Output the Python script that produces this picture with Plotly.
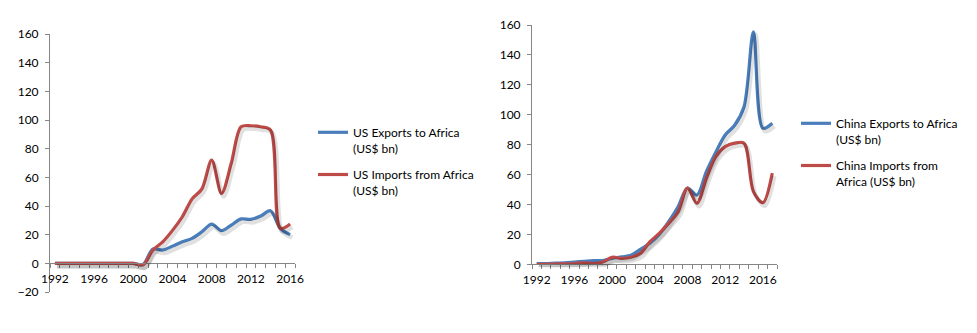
import plotly.graph_objects as go

# ---------------- data ----------------
us_years = list(range(1992, 2017))
us_exports = [0, 0, 0, 0, 0, 0, 0, 0, 0, -0.8, 10, 9.3, 12, 15, 17.4, 22, 27.4,
              22.8, 26.7, 31, 30.7, 33, 36.7, 24.4, 20]
us_imports = [0, 0, 0, 0, 0, 0, 0, 0, 0, -1, 9.3, 15, 23, 32.5, 45, 52, 72,
              48.8, 70, 95.3, 96, 95.3, 93, 24.4, 27.4]

cn_years = list(range(1992, 2018))
cn_exports = [0.5, 0.5, 0.8, 1, 1.5, 2, 2.5, 2.5, 4, 5, 6, 10, 14, 20, 28.5,
              38.5, 51, 46.3, 62, 75, 86.5, 93, 105.4, 155.5, 91, 94.3]
cn_imports = [0, 0, 0.2, 0.3, 0.5, 1, 0.5, 1.5, 4.7, 4, 4.7, 7.3, 15, 20.7,
              27.4, 35, 51, 40.8, 57.5, 72, 78.7, 81, 81, 48.6, 41.2, 61]

year_ticks = [1992, 1996, 2000, 2004, 2008, 2012, 2016]
left_yticks = [-20, 0, 20, 40, 60, 80, 100, 120, 140, 160]
right_yticks = [0, 20, 40, 60, 80, 100, 120, 140, 160]

names_us = ["US Exports to Africa<br>(US$ bn)", "US Imports from Africa<br>(US$ bn)"]
names_cn = ["China Exports to Africa<br>(US$ bn)", "China Imports from<br>Africa (US$ bn)"]

BLUE = "#4A7EBB"
RED = "#BE4B48"
AXIS = "#868686"
TXT = "#000000"
FONT = "Lato"

W, H = 977, 333

def px_x(a, b):
    return [a / W, b / W]

def px_y(top, bottom):
    return [1 - bottom / H, 1 - top / H]

# plot-area geometry (pixels)
L_dom_x = px_x(50, 295)
L_dom_y = px_y(34, 292)
R_dom_x = px_x(532, 777)
R_dom_y = px_y(25, 264.3)

SHX, SHY = 2 / W, 3 / H  # shadow offset

fig = go.Figure()

def add_series(xs, ys, color, name, xa, ya, xs_a, ys_a, legend):
    # soft shadow (drawn on offset, hidden axes)
    fig.add_trace(go.Scatter(x=xs, y=ys, mode="lines", xaxis=xs_a, yaxis=ys_a,
                             line=dict(color="rgba(0,0,0,0.12)", width=4.5,
                                       shape="spline", smoothing=0.9),
                             showlegend=False, hoverinfo="skip"))
    fig.add_trace(go.Scatter(x=xs, y=ys, mode="lines", name=name, xaxis=xa, yaxis=ya,
                             line=dict(color=color, width=3.2, shape="spline", smoothing=0.9),
                             legend=legend, legendgroup=name))

add_series(us_years, us_exports, BLUE, names_us[0], "x", "y", "x3", "y3", "legend")
add_series(us_years, us_imports, RED, names_us[1], "x", "y", "x3", "y3", "legend")
add_series(cn_years, cn_exports, BLUE, names_cn[0], "x2", "y2", "x4", "y4", "legend2")
add_series(cn_years, cn_imports, RED, names_cn[1], "x2", "y2", "x4", "y4", "legend2")

# reorder so shadows are drawn beneath all lines
data = list(fig.data)
shadows = [d for d in data if d.showlegend is False]
lines = [d for d in data if d.showlegend is not False]
fig.data = []
for d in shadows + lines:
    fig.add_trace(d)

tickfont = dict(family=FONT, size=12, color=TXT)

def xaxis_cfg(rng, dom, anchor, pos=None):
    cfg = dict(domain=dom, range=rng, tickmode="array", tickvals=year_ticks,
               ticktext=[str(v) for v in year_ticks], ticks="", showgrid=False,
               zeroline=False, showline=True, linecolor=AXIS, linewidth=1,
               tickfont=tickfont, ticklabelstandoff=4, automargin=False,
               minor=dict(tickmode="linear", tick0=rng[0], dtick=1, ticks="outside",
                          ticklen=4, tickcolor=AXIS, tickwidth=1, showgrid=False))
    if pos is None:
        cfg["anchor"] = anchor
    else:
        cfg["anchor"] = "free"
        cfg["position"] = pos
    return cfg

def yaxis_cfg(rng, dom, anchor, tickvals):
    return dict(domain=dom, range=rng, anchor=anchor, tickmode="array",
                tickvals=tickvals, ticks="outside", ticklen=4, tickcolor=AXIS,
                showgrid=False, zeroline=False, showline=True, linecolor=AXIS,
                linewidth=1, tickfont=tickfont, ticklabelstandoff=4, automargin=False)

L_xpos = L_dom_y[0] + (20 / 180) * (L_dom_y[1] - L_dom_y[0])

def hidden(dom, rng, anchor):
    return dict(domain=dom, range=rng, visible=False, anchor=anchor, showgrid=False,
                zeroline=False, automargin=False)

fig.update_layout(
    width=W, height=H, margin=dict(l=0, r=0, t=0, b=0, autoexpand=False),
    paper_bgcolor="white", plot_bgcolor="rgba(0,0,0,0)",
    font=dict(family=FONT, size=12, color=TXT),
    xaxis=xaxis_cfg([1991.5, 2016.5], L_dom_x, None, pos=L_xpos),
    yaxis=yaxis_cfg([-20, 160], L_dom_y, "x", left_yticks),
    xaxis2=xaxis_cfg([1991.5, 2017.5], R_dom_x, "y2"),
    yaxis2=yaxis_cfg([0, 160], R_dom_y, "x2", right_yticks),
    xaxis3=hidden([L_dom_x[0] + SHX, L_dom_x[1] + SHX], [1991.5, 2016.5], "y3"),
    yaxis3=hidden([L_dom_y[0] - SHY, L_dom_y[1] - SHY], [-20, 160], "x3"),
    xaxis4=hidden([R_dom_x[0] + SHX, R_dom_x[1] + SHX], [1991.5, 2017.5], "y4"),
    yaxis4=hidden([R_dom_y[0] - SHY, R_dom_y[1] - SHY], [0, 160], "x4"),
    legend=dict(x=313 / W, y=1 - 118 / H, xanchor="left", yanchor="top",
                bgcolor="rgba(0,0,0,0)", font=dict(family=FONT, size=12, color=TXT),
                valign="top", itemwidth=30, tracegroupgap=8, traceorder="grouped"),
    legend2=dict(x=796 / W, y=1 - 109 / H, xanchor="left", yanchor="top",
                 bgcolor="rgba(0,0,0,0)", font=dict(family=FONT, size=12, color=TXT),
                 valign="top", itemwidth=30, tracegroupgap=8, traceorder="grouped"),
    showlegend=True,
)

fig.write_html("out.html")
